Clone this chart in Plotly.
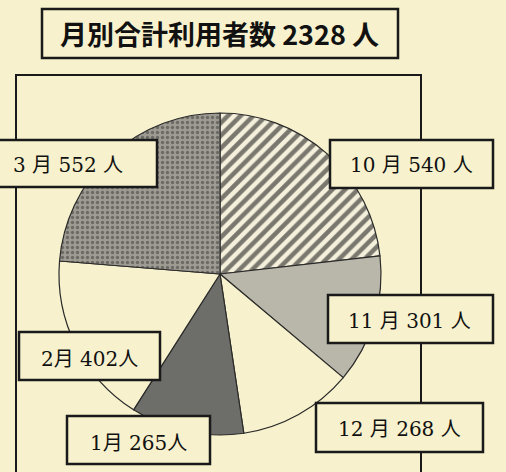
import plotly.graph_objects as go

W, H = 506, 472
months = ["10月", "11月", "12月", "1月", "2月", "3月"]
values = [540, 301, 268, 265, 402, 552]
label_texts = ["10 月 540 人", "11 月 301 人", "12 月 268 人", "1月 265人", "2月 402人", "3 月 552 人"]
title_text = "月別合計利用者数 2328 人"

BG = "#f7f2cd"
fills = ["#f4f0dc", "#b9b7aa", BG, "#6d6d69", BG, "#9d9b92"]
pshapes = ["/", "", "", "", "", "."]
pfg = ["#000000", "#1e1e1e", "#1e1e1e", "#1e1e1e", "#1e1e1e", "#3a3a36"]

def px(x):
    return x / W

def py(y):
    return 1 - y / H

cx, cy, r = 220, 274, 161

fig = go.Figure(go.Pie(
    labels=months, values=values, sort=False, direction="clockwise", rotation=0,
    textinfo="none", hoverinfo="label+value", showlegend=False,
    marker=dict(colors=fills, line=dict(color="#2a2a2a", width=1.2),
                pattern=dict(shape=pshapes, fgcolor=pfg, bgcolor=fills,
                             size=[9, 8, 8, 8, 8, 5], solidity=[0.5, 0.3, 0.3, 0.3, 0.3, 0.35],
                             fillmode="overlay")),
    domain=dict(x=[px(cx - r), px(cx + r)], y=[py(cy + r), py(cy - r)]),
))

shapes = []
# outer frame
shapes.append(dict(type="rect", xref="paper", yref="paper",
                   x0=px(16), x1=px(421), y0=py(490), y1=py(75),
                   line=dict(color="#1a1a1a", width=2), fillcolor="rgba(0,0,0,0)"))
# title box
shapes.append(dict(type="rect", xref="paper", yref="paper",
                   x0=px(42), x1=px(398), y0=py(58), y1=py(9),
                   line=dict(color="#1a1a1a", width=2.5), fillcolor=BG))

boxes = {  # x0, x1, y0, y1, text center x, text center y
    "3 月 552 人": (-4, 157, 140, 187, 68, 165),
    "10 月 540 人": (330, 493, 140, 188, 411, 165),
    "11 月 301 人": (328, 493, 295, 343, 409, 321),
    "2月 402人": (19, 160, 332, 380, 89, 359),
    "1月 265人": (67, 210, 416, 464, 138, 443),
    "12 月 268 人": (316, 483, 403, 452, 399, 429),
}
annotations = []
for t in label_texts:
    x0, x1, y0, y1, tx, ty = boxes[t]
    shapes.append(dict(type="rect", xref="paper", yref="paper",
                       x0=px(x0), x1=px(x1), y0=py(y1), y1=py(y0),
                       line=dict(color="#1a1a1a", width=2.5), fillcolor=BG))
    annotations.append(dict(text=t, xref="paper", yref="paper", x=px(tx), y=py(ty),
                            xanchor="center", yanchor="middle", showarrow=False,
                            font=dict(family="DejaVu Serif, Noto Sans CJK JP", size=20, color="#111111")))

annotations.append(dict(text="<b>" + title_text + "</b>", xref="paper", yref="paper",
                        x=px(219), y=py(33), xanchor="center", yanchor="middle", showarrow=False,
                        font=dict(family="Noto Sans CJK JP", size=27, color="#111111")))

fig.update_layout(width=W, height=H, margin=dict(l=0, r=0, t=0, b=0),
                  paper_bgcolor=BG, plot_bgcolor=BG,
                  shapes=shapes, annotations=annotations)
fig.write_html("out.html", config={"displayModeBar": False},
               post_script="document.body.style.margin='0';document.body.style.overflow='hidden';"
                           "document.body.style.background='#f7f2cd';")
